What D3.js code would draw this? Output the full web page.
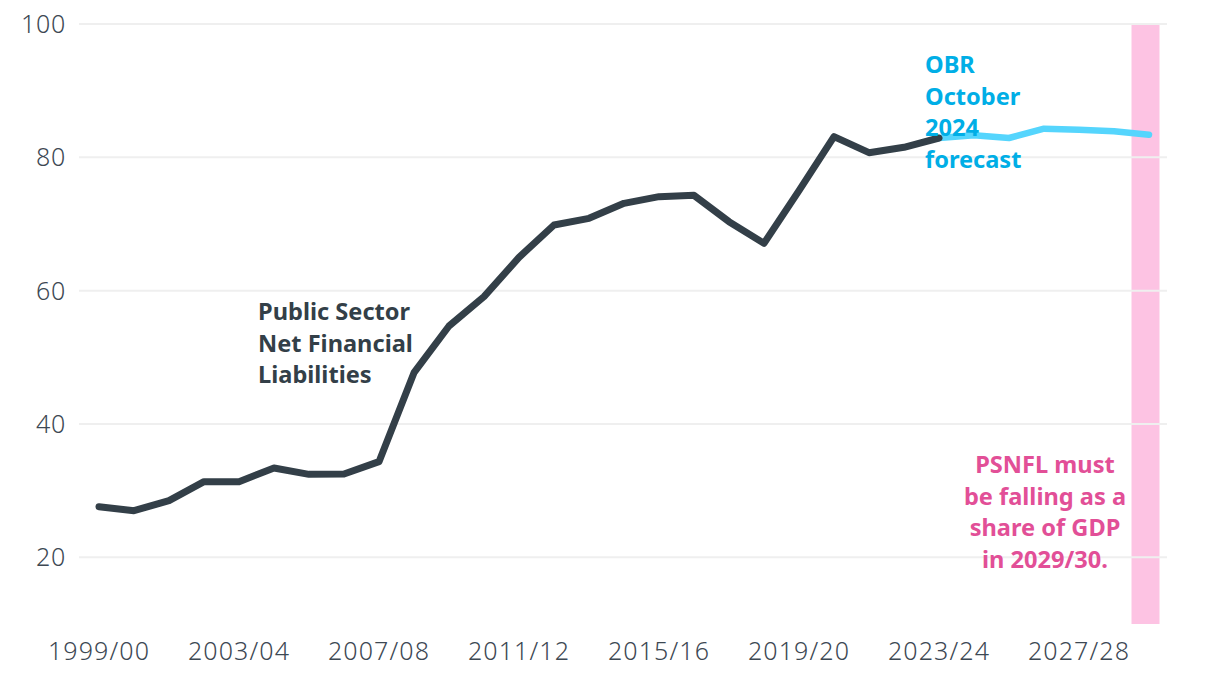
<!DOCTYPE html>
<html>
<head>
<meta charset="utf-8">
<script src="https://cdn.jsdelivr.net/npm/d3@7"></script>
<style>
  body { margin: 0; background: #fff; }
  svg { display: block; font-family: "Noto Sans", "Open Sans", sans-serif; }
</style>
</head>
<body>
<svg width="1220" height="676"></svg>
<script>
const years = ["1999/00","2000/01","2001/02","2002/03","2003/04","2004/05","2005/06","2006/07",
  "2007/08","2008/09","2009/10","2010/11","2011/12","2012/13","2013/14","2014/15","2015/16",
  "2016/17","2017/18","2018/19","2019/20","2020/21","2021/22","2022/23","2023/24","2024/25",
  "2025/26","2026/27","2027/28","2028/29","2029/30"];

// outturn, % of GDP
const outturn = [27.6, 27.0, 28.5, 31.35, 31.35, 33.4, 32.45, 32.5, 34.35, 47.7, 54.7, 59.1,
  65.0, 69.85, 70.85, 73.1, 74.1, 74.3, 70.35, 67.1, 75.0, 83.1, 80.7, 81.5, 82.9];

// OBR October 2024 forecast, from 2023/24
const forecastYears = ["2023/24","2024/25","2025/26","2026/27","2027/28","2028/29","2029/30"];
const forecast = [82.9, 83.3, 82.9, 84.3, 84.15, 83.9, 83.4];

const xTickLabels = ["1999/00","2003/04","2007/08","2011/12","2015/16","2019/20","2023/24","2027/28"];
const yTicks = [20, 40, 60, 80, 100];
const targetYear = "2029/30";

const svg = d3.select("svg");
const ink = "#333f48";

const x = d3.scaleLinear().domain([0, years.length - 1]).range([99, 1149]);
const y = d3.scaleLinear().domain([10, 100]).range([624, 24]);
const xi = label => x(years.indexOf(label));

// pink target band
const ti = years.indexOf(targetYear);
svg.append("rect")
  .attr("x", x(ti - 0.5))
  .attr("width", x(ti + 0.3) - x(ti - 0.5))
  .attr("y", y(100))
  .attr("height", y(10) - y(100))
  .attr("fill", "#fdc3e3");

// gridlines
svg.append("g").selectAll("line").data(yTicks).join("line")
  .attr("x1", 79).attr("x2", 1167)
  .attr("y1", d => y(d)).attr("y2", d => y(d))
  .attr("stroke", "#efefef").attr("stroke-width", 2);

// y axis labels
svg.append("g").selectAll("text").data(yTicks).join("text")
  .attr("x", 66).attr("y", d => y(d)).attr("dy", "0.36em")
  .attr("text-anchor", "end")
  .attr("font-size", 25).attr("font-weight", 300).attr("letter-spacing", 0.7)
  .attr("fill", "#3d4853")
  .text(d => d);

// x axis labels
svg.append("g").selectAll("text").data(xTickLabels).join("text")
  .attr("x", d => xi(d)).attr("y", 660)
  .attr("text-anchor", "middle")
  .attr("font-size", 25).attr("font-weight", 300).attr("letter-spacing", 1.1)
  .attr("fill", "#3d4853")
  .text(d => d);

const line = d3.line().x(d => d[0]).y(d => d[1]);

// forecast
svg.append("path")
  .attr("d", line(forecast.map((v, i) => [xi(forecastYears[i]), y(v)])))
  .attr("fill", "none").attr("stroke", "#55d5fd")
  .attr("stroke-width", 6.5).attr("stroke-linecap", "round").attr("stroke-linejoin", "round");

// outturn
svg.append("path")
  .attr("d", line(outturn.map((v, i) => [x(i), y(v)])))
  .attr("fill", "none").attr("stroke", ink)
  .attr("stroke-width", 7).attr("stroke-linecap", "round").attr("stroke-linejoin", "round");

function label(lines, px, py, color, anchor) {
  const t = svg.append("text")
    .attr("x", px).attr("y", py)
    .attr("text-anchor", anchor)
    .attr("font-size", 23.6).attr("font-weight", 700)
    .attr("fill", color);
  lines.forEach((s, i) => t.append("tspan").attr("x", px).attr("dy", i ? 31.5 : 0).text(s));
}

label(["Public Sector", "Net Financial", "Liabilities"], 258, 320, ink, "start");
label(["OBR", "October", "2024", "forecast"], 925, 73, "#00aee6", "start");
label(["PSNFL must", "be falling as a", "share of GDP", "in 2029/30."], 1045, 473, "#e24f97", "middle");
</script>
</body>
</html>
